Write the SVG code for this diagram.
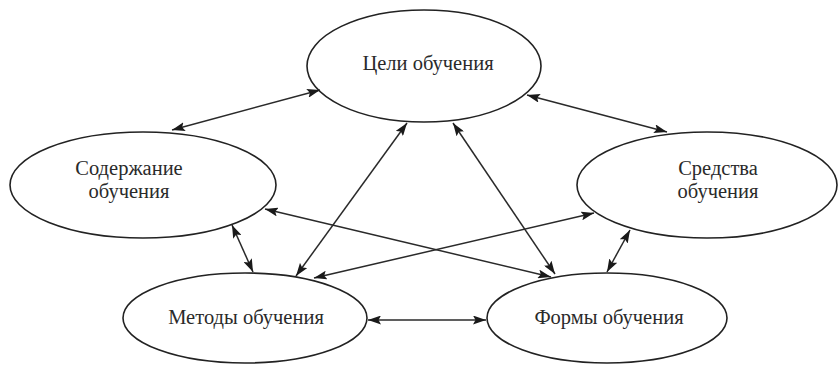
<svg xmlns="http://www.w3.org/2000/svg" width="838" height="365" viewBox="0 0 838 365">
<defs>
<style>
.node ellipse{fill:#fff;stroke:#222;stroke-width:1.6}
.node text{font-family:"Liberation Serif","Times New Roman",serif;font-size:20.5px;fill:#2a2a2a;text-anchor:middle}
.conn line{stroke:#2a2a2a;stroke-width:1.5;marker-start:url(#ah);marker-end:url(#ah)}
</style>
<marker id="ah" viewBox="0 0 13 9" refX="13" refY="4.5" markerWidth="13" markerHeight="9" markerUnits="userSpaceOnUse" orient="auto-start-reverse">
<path d="M0,0 L13,4.5 L0,9 L2.5,4.5 Z" fill="#1a1a1a"/>
</marker>
</defs>
<rect width="838" height="365" fill="#fff"/>
<g id="n-celi" class="node">
<ellipse cx="424" cy="66" rx="117" ry="56"/>
<text x="428" y="70">Цели обучения</text>
</g>
<g id="n-soderzhanie" class="node">
<ellipse cx="143" cy="185" rx="133" ry="53"/>
<text x="129" y="175">Содержание</text>
<text x="129" y="198">обучения</text>
</g>
<g id="n-sredstva" class="node">
<ellipse cx="707" cy="185" rx="130" ry="53"/>
<text x="718" y="175">Средства</text>
<text x="718" y="198">обучения</text>
</g>
<g id="n-metody" class="node">
<ellipse cx="245" cy="318" rx="122" ry="45"/>
<text x="246" y="324">Методы обучения</text>
</g>
<g id="n-formy" class="node">
<ellipse cx="607" cy="318" rx="120" ry="45"/>
<text x="609" y="324">Формы обучения</text>
</g>
<g id="connectors" class="conn">
<line x1="320" y1="90" x2="172" y2="130"/>
<line x1="527" y1="95" x2="667" y2="132"/>
<line x1="232" y1="225" x2="253" y2="272"/>
<line x1="407" y1="123" x2="296" y2="276"/>
<line x1="453" y1="123" x2="555" y2="274"/>
<line x1="265" y1="209" x2="551" y2="277"/>
<line x1="594" y1="213" x2="314" y2="278"/>
<line x1="630" y1="230" x2="607" y2="272"/>
<line x1="368" y1="320" x2="486" y2="320"/>
</g>
</svg>
